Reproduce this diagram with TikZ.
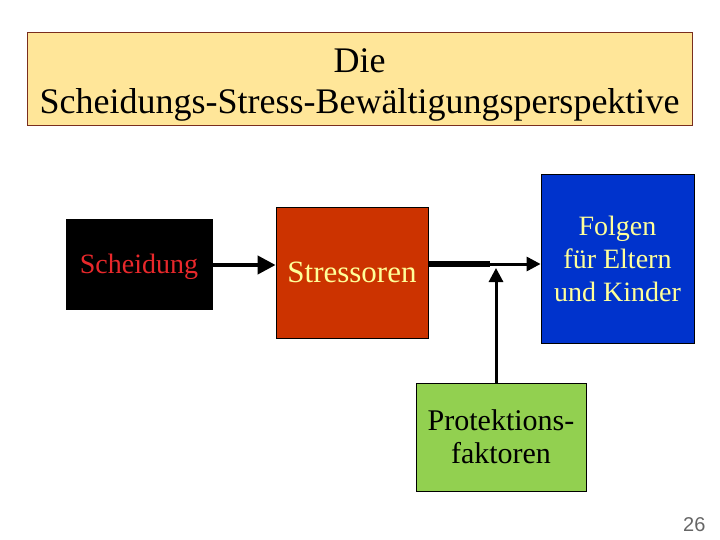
\documentclass[tikz,border=0pt]{standalone}
\usepackage{fontspec}
\setmainfont{Liberation Serif}
\setsansfont{Liberation Sans}
\usetikzlibrary{arrows.meta, positioning, calc}
\definecolor{titelgelb}{HTML}{FFE699}
\definecolor{titelrand}{HTML}{7A2E1E}
\definecolor{rostrot}{HTML}{CC3300}
\definecolor{koenigsblau}{HTML}{0033CC}
\definecolor{hellgruen}{HTML}{92D050}
\definecolor{blassgelb}{HTML}{FFFF99}
\definecolor{schriftrot}{HTML}{E8282B}
\tikzset{
  kasten/.style={rectangle, draw=black, line width=0.8pt, text centered, align=center, inner sep=0pt},
  titel/.style={rectangle, draw=titelrand, line width=0.8pt, fill=titelgelb},
  titeltext/.style={align=center, font=\fontsize{36}{41}\selectfont},
  pfeil/.style={line width=3pt, -{Triangle[length=14pt,width=14pt]}, color=black},
  dickpfeil/.style={line width=4pt, -{Triangle[length=18pt,width=18pt]}, color=black}
}
\begin{document}
\begin{tikzpicture}[x=1pt, y=-1pt]
  \useasboundingbox (0,0) rectangle (720,540);
  \node (t) [titel, minimum width=665pt, minimum height=93pt] at (359.5,78.5) {};
  \node (tt) [titeltext] at ($(t.center)+(0,6)$) {Die\\Scheidungs-Stress-Bewältigungsperspektive};
  \node (k1) [kasten, fill=black, text=schriftrot, font=\fontsize{28}{32}\selectfont, text depth=0pt,
              minimum width=146pt, minimum height=90pt] at (139,264) {Scheidung};
  \node (k2) [kasten, fill=rostrot, text=blassgelb, font=\fontsize{31}{34}\selectfont,
              minimum width=152pt, minimum height=131pt] at (352,272.5) {Stressoren};
  \node (k3) [kasten, fill=koenigsblau, text=blassgelb, font=\fontsize{28}{33}\selectfont,
              minimum width=153pt, minimum height=169pt] at (617.5,258.5) {Folgen\\für Eltern\\und Kinder};
  \node (k4) [kasten, fill=hellgruen, text=black, font=\fontsize{30}{33}\selectfont,
              minimum width=170pt, minimum height=108pt] at (501,437) {Protektions-\\faktoren};
  \node (nr) [font=\sffamily\fontsize{20}{22}\selectfont, text=black!60, anchor=east] at (709,525) {26};
  % Verbindungen
  \coordinate (knick) at (490,264);
  \coordinate (spitze) at (496,268);
  \draw [dickpfeil] (k1.east |- 0,265) -- (k2.west |- 0,265);
  \draw [line width=6pt] (k2.east |- knick) -- (knick);
  \draw [pfeil] (knick) -- (k3.west |- knick);
  \draw [pfeil] (k4.north -| spitze) -- (spitze);
\end{tikzpicture}
\end{document}
